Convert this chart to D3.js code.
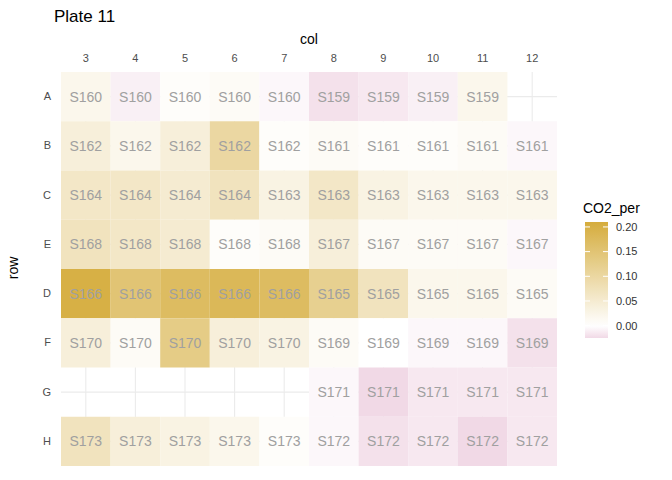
<!DOCTYPE html>
<html><head><meta charset="utf-8">
<script src="https://cdn.jsdelivr.net/npm/d3@7"></script>
<style>body{margin:0;background:#fff;font-family:"Liberation Sans",Arial,sans-serif}</style>
</head><body><svg id="c" width="672" height="480"></svg>
<script>
var cols = [3,4,5,6,7,8,9,10,11,12];
var rows = ["A","B","C","E","D","F","G","H"];
// CO2_per per row, in column order (null = empty well)
var vals = {
  A:[0.02,-0.01,0.005,0.01,-0.005,-0.02,-0.015,-0.01,0.02,null],
  B:[0.04,0.02,0.04,0.10,0.005,0.01,0.005,0.005,0.01,-0.005],
  C:[0.06,0.06,0.05,0.07,0.03,0.06,0.03,0.02,0.02,0.02],
  E:[0.07,0.06,0.05,0.005,0.01,0.04,0.01,0.01,0.01,-0.005],
  D:[0.20,0.15,0.17,0.18,0.17,0.12,0.07,0.02,0.02,0.01],
  F:[0.04,0.01,0.13,0.04,0.03,0.01,0.0,-0.005,-0.005,-0.02],
  G:[null,null,null,null,null,-0.005,-0.025,-0.015,-0.015,-0.015],
  H:[0.07,0.04,0.03,0.02,0.005,-0.005,-0.02,-0.015,-0.025,-0.015]
};
var labs = {
  A:["S160","S160","S160","S160","S160","S159","S159","S159","S159",null],
  B:["S162","S162","S162","S162","S162","S161","S161","S161","S161","S161"],
  C:["S164","S164","S164","S164","S163","S163","S163","S163","S163","S163"],
  E:["S168","S168","S168","S168","S168","S167","S167","S167","S167","S167"],
  D:["S166","S166","S166","S166","S166","S165","S165","S165","S165","S165"],
  F:["S170","S170","S170","S170","S170","S169","S169","S169","S169","S169"],
  G:[null,null,null,null,null,"S171","S171","S171","S171","S171"],
  H:["S173","S173","S173","S173","S173","S172","S172","S172","S172","S172"]
};
var legendTicks = [0.00,0.05,0.10,0.15,0.20];

var svg = d3.select("#c");
var x = d3.scaleBand().domain(cols).range([61,557]).padding(0);
var y = d3.scaleBand().domain(rows).range([72,466]).padding(0);
var color = d3.scaleLinear().domain([-0.025,0,0.21]).range(["#f1d9e6","#ffffff","#d5ac3c"]).clamp(true);

var cells = [];
rows.forEach(function(r){ cols.forEach(function(c,i){
  if(vals[r][i]!==null) cells.push({r:r,c:c,v:vals[r][i],l:labs[r][i]});
});});

// grid
var g = svg.append("g");
cols.forEach(function(c){ g.append("line").attr("x1",x(c)+x.bandwidth()/2).attr("x2",x(c)+x.bandwidth()/2)
  .attr("y1",72).attr("y2",466).attr("stroke","#ebebeb").attr("stroke-width",1.1); });
rows.forEach(function(r){ g.append("line").attr("y1",y(r)+y.bandwidth()/2).attr("y2",y(r)+y.bandwidth()/2)
  .attr("x1",61).attr("x2",557).attr("stroke","#ebebeb").attr("stroke-width",1.1); });

svg.append("g").selectAll("rect").data(cells).enter().append("rect")
  .attr("x",function(d){return x(d.c);}).attr("y",function(d){return y(d.r);})
  .attr("width",x.bandwidth()).attr("height",y.bandwidth())
  .attr("fill",function(d){return color(d.v);});
svg.append("g").selectAll("text").data(cells).enter().append("text")
  .attr("x",function(d){return x(d.c)+x.bandwidth()/2;}).attr("y",function(d){return y(d.r)+y.bandwidth()/2;})
  .attr("dy","0.35em").attr("text-anchor","middle").attr("font-size",14).attr("fill","#a0a0a0")
  .text(function(d){return d.l;});

// axes
svg.append("g").attr("transform","translate(0,66)")
  .call(d3.axisTop(x).tickSize(0).tickPadding(4))
  .call(function(a){a.select(".domain").remove(); a.selectAll("text").attr("font-size",11).attr("fill","#4d4d4d");});
svg.append("g").attr("transform","translate(55,0)")
  .call(d3.axisLeft(y).tickSize(0).tickPadding(4))
  .call(function(a){a.select(".domain").remove(); a.selectAll("text").attr("font-size",11).attr("fill","#4d4d4d");});
svg.append("text").attr("x",309).attr("y",44).attr("text-anchor","middle").attr("font-size",14).text("col");
svg.append("text").attr("transform","translate(18,268) rotate(-90)").attr("text-anchor","middle").attr("font-size",14).text("row");
svg.append("text").attr("x",54).attr("y",22).attr("font-size",17).text("Plate 11");

// legend
var ly = d3.scaleLinear().domain([-0.025,0.21]).range([338,222]);
var defs = svg.append("defs");
var grad = defs.append("linearGradient").attr("id","lg").attr("x1",0).attr("x2",0).attr("y1",1).attr("y2",0);
d3.range(0,1.001,0.05).forEach(function(t){
  grad.append("stop").attr("offset",t).attr("stop-color",color(-0.025+t*0.235));
});
svg.append("rect").attr("x",585).attr("y",222).attr("width",23).attr("height",116).attr("fill","url(#lg)");
legendTicks.forEach(function(t){
  svg.append("line").attr("x1",585).attr("x2",590).attr("y1",ly(t)).attr("y2",ly(t)).attr("stroke","#fff");
  svg.append("line").attr("x1",603).attr("x2",608).attr("y1",ly(t)).attr("y2",ly(t)).attr("stroke","#fff");
  svg.append("text").attr("x",616).attr("y",ly(t)).attr("dy","0.35em").attr("font-size",11).attr("fill","#333").text(t.toFixed(2));
});
svg.append("text").attr("x",583).attr("y",213).attr("font-size",14).text("CO2_per");
</script></body></html>
